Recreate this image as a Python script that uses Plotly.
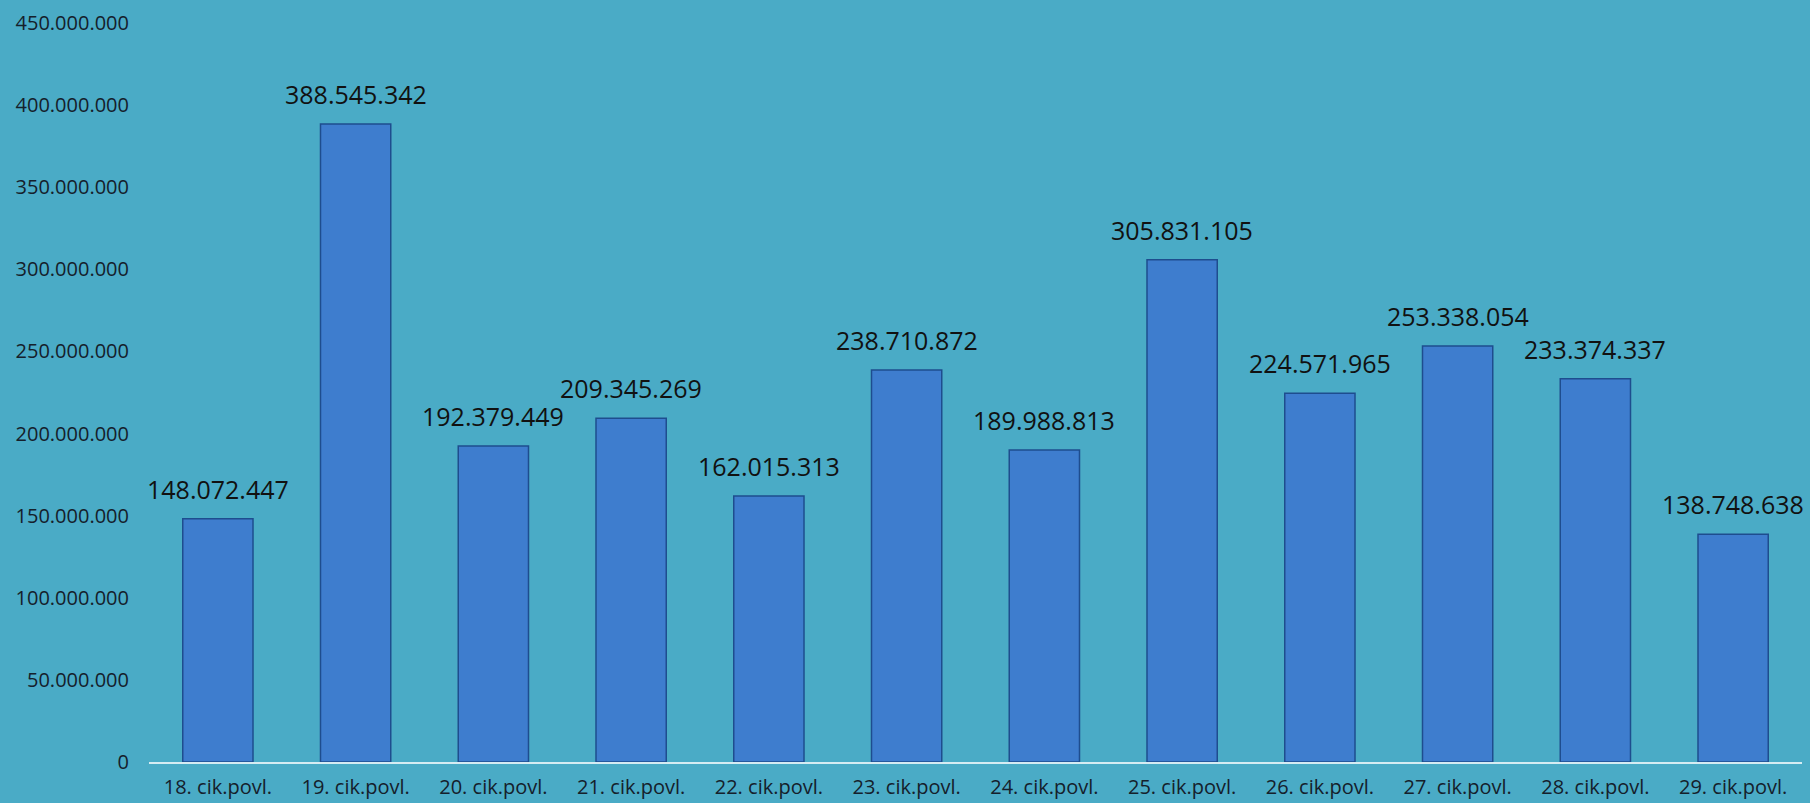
import plotly.graph_objects as go

categories = ["18. cik.povl.", "19. cik.povl.", "20. cik.povl.", "21. cik.povl.",
              "22. cik.povl.", "23. cik.povl.", "24. cik.povl.", "25. cik.povl.",
              "26. cik.povl.", "27. cik.povl.", "28. cik.povl.", "29. cik.povl."]
values = [148072447, 388545342, 192379449, 209345269, 162015313, 238710872,
          189988813, 305831105, 224571965, 253338054, 233374337, 138748638]
tick_values = [0, 50000000, 100000000, 150000000, 200000000, 250000000,
               300000000, 350000000, 400000000, 450000000]

def fmt(v):
    return f"{v:,}".replace(",", ".")

BG = "#4AABC6"
FONT = "Open Sans"

fig = go.Figure()
fig.add_trace(go.Bar(
    x=categories, y=values,
    width=0.51,
    marker=dict(color="#3E7DCE", line=dict(color="#1E4D8E", width=1.5)),
    showlegend=False,
))

for c, v in zip(categories, values):
    fig.add_annotation(x=c, y=v, text=fmt(v), showarrow=False,
                       yanchor="bottom", yshift=11,
                       font=dict(family=FONT, size=25, color="#111111"))

fig.update_layout(
    width=1810, height=803,
    paper_bgcolor=BG, plot_bgcolor=BG,
    margin=dict(l=149, r=8, t=23, b=41),
    separators=",.",
    font=dict(family=FONT, color="#15202b"),
    xaxis=dict(showgrid=False, showline=True, linecolor="#D6ECF3", linewidth=2,
               tickfont=dict(family=FONT, size=20, color="#15202b"),
               ticks="", ticklabelstandoff=6, range=[-0.5, 11.5],
               automargin=False),
    yaxis=dict(range=[0, 450000000], tickvals=tick_values, tickformat=",d",
               showgrid=False, zeroline=False, showline=False,
               tickfont=dict(family=FONT, size=20, color="#15202b"),
               ticks="", ticklabelstandoff=19, automargin=False),
)

fig.write_html("out.html", config={"displayModeBar": False},
               post_script="document.body.style.margin='0';document.body.style.overflow='hidden';")
